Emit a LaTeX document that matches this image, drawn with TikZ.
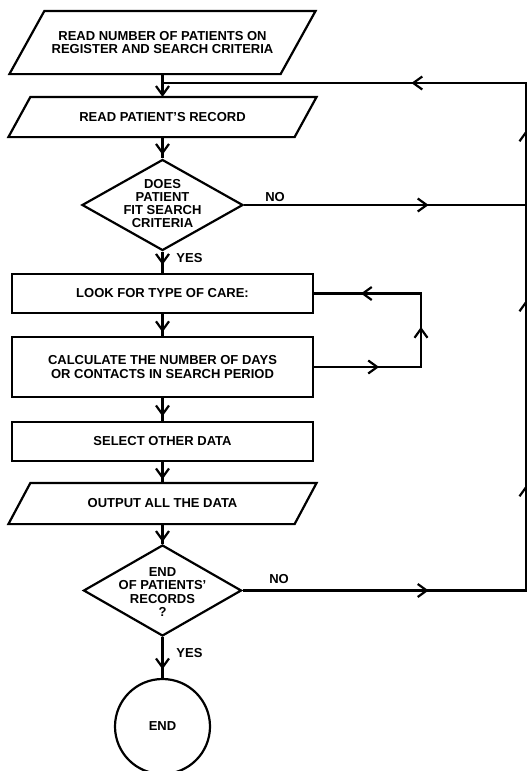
\documentclass[tikz,border=0pt]{standalone}
\usepackage{fontspec}
\setmainfont{Liberation Sans}
\usetikzlibrary{shapes.geometric,arrows.meta,decorations.markings}

\newcommand{\iobox}[2]{%
  \draw ([xshift=-#2]#1.south west) -- ([xshift=-#2]#1.south east)
    -- ([xshift=#2]#1.north east) -- ([xshift=#2]#1.north west) -- cycle;}

\begin{document}
\begin{tikzpicture}[x=1pt,y=1pt,line width=2.2pt,
  arrowat/.style={postaction={decorate,decoration={markings,
    mark=at position #1 with {\arrow{Straight Barb[length=9pt,width=13pt,line width=2.2pt]}}}}}]
	\tikzstyle{every node}+=[font=\bfseries\fontsize{13}{13.3}\selectfont,align=center,inner sep=0pt]
	\tikzstyle{procbox}=[draw,rectangle,minimum width=301pt]
	\tikzstyle{decision}=[draw,diamond,minimum width=161pt,minimum height=91pt]
	\useasboundingbox (0,0) rectangle (527,-771);
	\node[minimum width=269pt,minimum height=61pt] (readreg) at (162.5,-42.5) {READ NUMBER OF PATIENTS ON\\REGISTER AND SEARCH CRITERIA};
	\iobox{readreg}{17.5pt}
	\node[minimum width=284pt,minimum height=38pt] (readrec) at (162.5,-117) {READ PATIENT'S RECORD};
	\iobox{readrec}{11pt}
	\node[decision] (fits) at (162.5,-205) {};
	\node (fitstext) at (162.5,-203.5) {DOES\\PATIENT\\FIT SEARCH\\CRITERIA};
	\node[procbox,minimum height=39pt] (care) at (162.5,-293.5) {LOOK FOR TYPE OF CARE:};
	\node[procbox,minimum height=60pt] (calc) at (162.5,-367) {CALCULATE THE NUMBER OF DAYS\\OR CONTACTS IN SEARCH PERIOD};
	\node[procbox,minimum height=39pt] (other) at (162.5,-441.5) {SELECT OTHER DATA};
	\node[minimum width=284pt,minimum height=39pt] (output) at (162.5,-503.5) {OUTPUT ALL THE DATA};
	\iobox{output}{11pt}
	\node[decision,minimum width=158pt] (last) at (162.5,-590.5) {};
	\node (lasttext) at (162.5,-592) {END\\OF PATIENTS'\\RECORDS\\?};
	\node[draw,circle,minimum size=95pt] (endc) at (162.5,-726.5) {END};
	\node (nofits) at (275,-197) {NO};
	\node (yesfits) at (189.5,-258.5) {YES};
	\node (nolast) at (279,-579) {NO};
	\node (yeslast) at (189.5,-653) {YES};
	\coordinate (rjoin) at (162.5,-83);
	\coordinate (rtop) at (526,-83);
	\coordinate (rmid) at (526,-205);
	\coordinate (rbot) at (526,-590.5);
	\coordinate (ltop) at (421,-293.5);
	\coordinate (lbot) at (421,-367);
	\draw[-{Straight Barb[length=9pt,width=13pt,line width=2.2pt]}] (readreg.south) -- (readrec.north);
	\draw[arrowat=0.83] (readrec.south) -- (fits.north);
	\draw[arrowat=0.62] (fits.south) -- (care.north);
	\draw[arrowat=0.83] (care.south) -- (calc.north);
	\draw[arrowat=0.8] (calc.south) -- (other.north);
	\draw[arrowat=0.83] (other.south) -- (output.north);
	\draw[arrowat=0.9] (output.south) -- (last.north);
	\draw[arrowat=0.79] (last.south) -- (endc.north);
	\draw[arrowat=184.5pt] (fits.east) -- (rmid);
	\draw[arrowat=65pt,arrowat=147pt,arrowat=240.5pt] (calc.east) -- (lbot) -- (ltop) -- (care.east);
	\draw[arrowat=186pt,arrowat=388.5pt,arrowat=573.5pt,arrowat=743.5pt,arrowat=905.5pt] (last.east) -- (rbot) -- (rtop) -- (rjoin);
\end{tikzpicture}
\end{document}
